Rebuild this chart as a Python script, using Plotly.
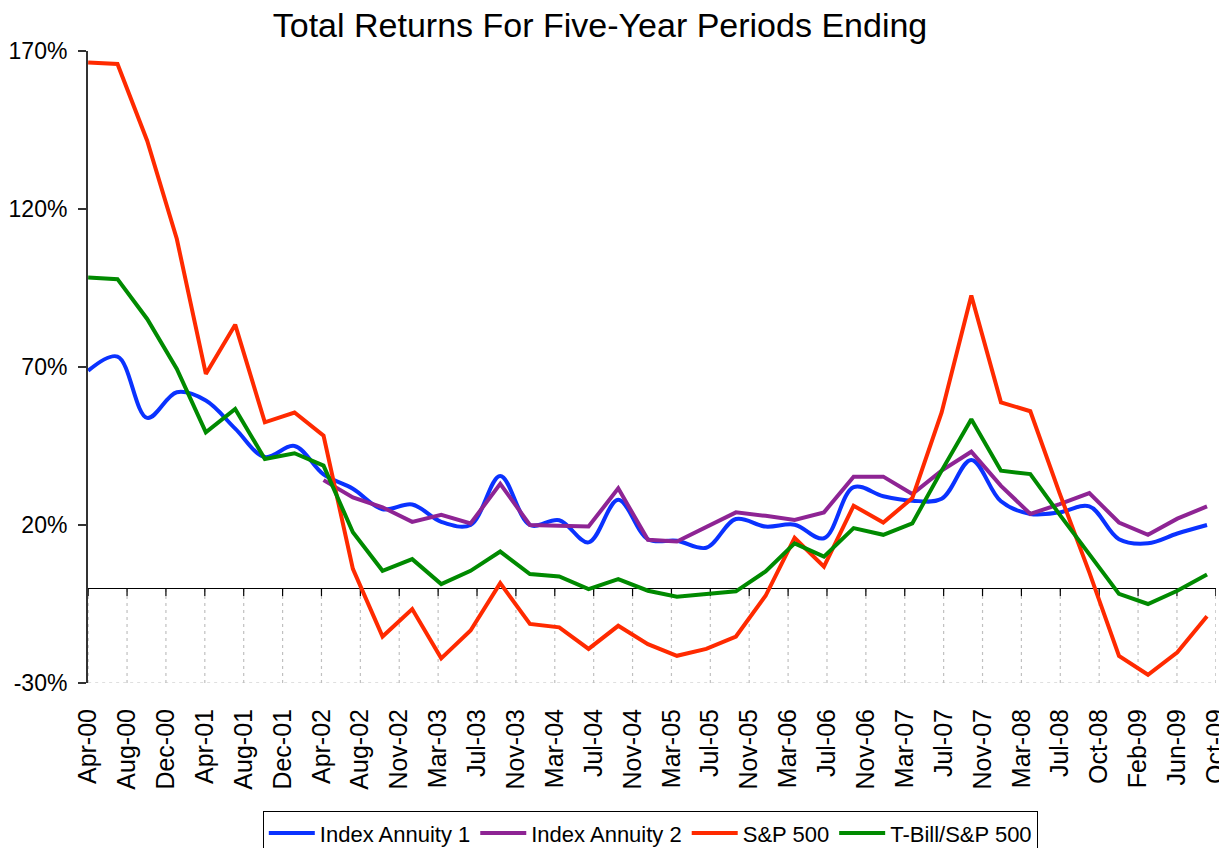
import pandas as pd
import plotly.graph_objects as go

# ---- data (quarterly, Apr-00 .. Oct-09) ----
quarters = pd.date_range("2000-04-01", "2009-10-01", freq="QS")

index_annuity_1 = [68.8, 73.3, 53.9, 62.0, 59.4, 50.5, 41.5, 45.0, 36.0, 31.5,
                   25.0, 26.5, 21.0, 20.0, 35.5, 20.0, 21.5, 14.5, 28.0, 15.5,
                   15.0, 12.8, 21.9, 19.5, 20.1, 15.8, 32.0, 29.1, 27.7, 28.3,
                   40.6, 27.5, 23.5, 24.0, 25.9, 15.5, 14.2, 17.3, 20.0]

index_annuity_2 = [None, None, None, None, None, None, None, None, 34.2, 28.7,
                   25.6, 21.0, 23.2, 20.5, 33.0, 20.0, 19.8, 19.5, 31.6, 15.3,
                   14.8, 19.5, 24.0, 22.9, 21.6, 24.0, 35.3, 35.3, 29.8, 37.2,
                   43.2, 32.4, 23.5, 26.6, 30.1, 20.8, 16.9, 22.0, 25.9]

sp500 = [166.4, 165.9, 141.6, 110.5, 67.8, 83.4, 52.5, 55.6, 48.3, 6.1,
         -15.3, -6.6, -22.2, -13.4, 1.6, -11.3, -12.4, -19.2, -11.9, -17.7,
         -21.4, -19.2, -15.3, -2.4, 15.9, 6.8, 26.1, 20.8, 28.5, 55.6,
         92.6, 58.8, 56.0, 30.0, 5.0, -21.4, -27.4, -20.3, -8.9]

tbill_sp500 = [98.3, 97.8, 85.2, 69.4, 49.3, 56.7, 40.9, 42.7, 38.8, 17.7,
               5.5, 9.2, 1.3, 5.5, 11.6, 4.5, 3.7, -0.3, 2.9, -0.8,
               -2.7, -1.8, -1.0, 5.3, 14.2, 10.0, 19.0, 16.9, 20.5, 37.2,
               53.5, 37.2, 36.1, 23.3, 11.0, -1.8, -5.0, -0.8, 4.3]

tick_labels = ["Apr-00", "Aug-00", "Dec-00", "Apr-01", "Aug-01", "Dec-01",
               "Apr-02", "Aug-02", "Nov-02", "Mar-03", "Jul-03", "Nov-03",
               "Mar-04", "Jul-04", "Nov-04", "Mar-05", "Jul-05", "Nov-05",
               "Mar-06", "Jul-06", "Nov-06", "Mar-07", "Jul-07", "Nov-07",
               "Mar-08", "Jul-08", "Oct-08", "Feb-09", "Jun-09", "Oct-09"]

y_ticks = [-30, 20, 70, 120, 170]

# ---- axis geometry ----
x_start = quarters[0]
x_end = x_start + (quarters[-1] - x_start) * (38.3 / 38)
step = (x_end - x_start) / (len(tick_labels) - 1)
tick_vals = [x_start + step * i for i in range(len(tick_labels))]
pad = pd.Timedelta(hours=12)

FONT = "Liberation Sans, Arial, sans-serif"

fig = go.Figure()
series = [
    ("Index Annuity 1", index_annuity_1, "#0A32FF", "spline"),
    ("Index Annuity 2", index_annuity_2, "#8E2494", "linear"),
    ("S&P 500", sp500, "#FF2A00", "linear"),
    ("T-Bill/S&P 500", tbill_sp500, "#008A00", "linear"),
]
for name, vals, color, shape in series:
    fig.add_trace(go.Scatter(
        x=quarters, y=vals, name=name, mode="lines",
        line=dict(color=color, width=4, shape=shape),
        connectgaps=False,
    ))

shapes = []
for tv in tick_vals:
    shapes.append(dict(type="line", xref="x", yref="y", x0=tv, x1=tv, y0=-30, y1=0,
                       line=dict(color="#C0C0C0", width=1.2, dash="3px,4px"), layer="below"))
    shapes.append(dict(type="line", xref="x", yref="y", x0=tv, x1=tv, y0=0, y1=-2.5,
                       line=dict(color="black", width=1.2), layer="below"))
shapes.append(dict(type="line", xref="x", yref="y", x0=x_start, x1=x_end, y0=-30, y1=-30,
                   line=dict(color="#C0C0C0", width=1.2, dash="3px,4px"), layer="below"))

fig.update_layout(
    width=1219, height=848,
    margin=dict(l=88, r=3, t=51, b=165, autoexpand=False),
    paper_bgcolor="white", plot_bgcolor="white",
    font=dict(family=FONT, color="black"),
    title=dict(text="Total Returns For Five-Year Periods Ending",
               font=dict(size=34, family=FONT, color="black"),
               x=600 / 1219, xref="container", xanchor="center",
               y=1 - 25 / 848, yref="container", yanchor="middle"),
    shapes=shapes,
    showlegend=True,
    legend=dict(orientation="h", x=0.4985, xanchor="center", y=-0.203, yanchor="top",
                bordercolor="black", borderwidth=1, font=dict(size=22, family=FONT),
                itemwidth=46, tracegroupgap=0),
)
fig.update_xaxes(
    type="date", range=[x_start - pad, x_end + pad],
    tickmode="array", tickvals=tick_vals, ticktext=tick_labels,
    tickangle=-90, tickfont=dict(size=25, family=FONT),
    showgrid=False, showline=False, zeroline=False, ticks="",
    ticklabelstandoff=20, automargin=False, ticklabeloverflow="allow",
)
fig.update_yaxes(
    range=[-30, 170], tickmode="array", tickvals=y_ticks,
    ticktext=[f"{v}%" for v in y_ticks],
    tickfont=dict(size=23, family=FONT),
    showgrid=False, showline=True, linecolor="#333333", linewidth=2,
    ticks="outside", ticklen=8, tickcolor="#333333", tickwidth=1.5,
    zeroline=True, zerolinecolor="black", zerolinewidth=1.2,
    ticklabelstandoff=6, automargin=False,
)

fig.write_html(
    "out.html",
    config={"displayModeBar": False},
    post_script="document.body.style.margin='0px';"
                "document.documentElement.style.overflow='hidden';",
)
